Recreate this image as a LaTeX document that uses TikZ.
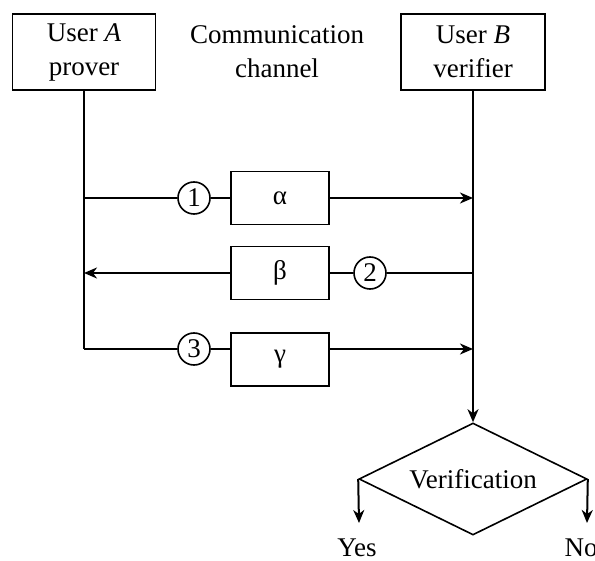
\documentclass[tikz,border=0pt]{standalone}
\usepackage{fontspec}
\setmainfont{Liberation Serif}
\usetikzlibrary{arrows.meta,shapes.geometric}

\tikzset{
  box/.style={draw, line width=0.8pt, inner sep=0pt, align=center},
  numcirc/.style={draw, circle, line width=0.8pt, minimum size=16pt, inner sep=0pt},
  arr/.style={-{Stealth[length=6.5pt,width=5.5pt,inset=2pt]}},
}

\begin{document}
\begin{tikzpicture}[x=0.5pt,y=-0.5pt,line width=1pt,font=\fontsize{13.5}{17}\selectfont]
\useasboundingbox (0,0) rectangle (595,561);
% the two users and the channel
\node[box, minimum width=71.5pt, minimum height=38pt] (userA) at (84,52) {User \textit{A}\\prover};
\node[box, minimum width=72pt, minimum height=38pt] (userB) at (473,52) {User \textit{B}\\verifier};
\node[align=center] (channel) at (277,52) {Communication\\channel};
% messages
\node[box, minimum width=49pt, minimum height=26.5pt] (alpha) at (280,198) {α};
\node[box, minimum width=49pt, minimum height=26.5pt] (beta) at (280,273) {β};
\node[box, minimum width=49pt, minimum height=26.5pt] (gamma) at (280,359.5) {γ};
\node[numcirc] (c1) at (194,198) {1};
\node[numcirc] (c2) at (370,273) {2};
\node[numcirc] (c3) at (194,349) {3};
\coordinate (a1) at (84,198);
\coordinate (a2) at (84,273);
\coordinate (a3) at (84,349);
\coordinate (b1) at (473,198);
\coordinate (b2) at (473,273);
\coordinate (b3) at (473,349);
% decision
\node[draw, diamond, aspect=2, line width=0.8pt, minimum width=114pt, minimum height=56pt, inner sep=0pt] (verif) at (473,479) {Verification};
\node (yes) at (357,548) {Yes};
\node (no) at (581,548) {No};
\coordinate (yesend) at (359,523);
\coordinate (noend) at (587,523);

\draw (userA) -- (a3);
\draw[arr] (userB) -- (verif);
\draw (a1) -- (c1) -- (alpha);
\draw[arr] (alpha) -- (b1);
\draw (b2) -- (c2) -- (beta);
\draw[arr] (beta) -- (a2);
\draw (a3) -- (c3) -- (c3 -| gamma.west);
\draw[arr] (c3 -| gamma.east) -- (b3);
\draw[arr] (verif.west) -- (yesend);
\draw[arr] (verif.east) -- (noend);
\end{tikzpicture}
\end{document}
